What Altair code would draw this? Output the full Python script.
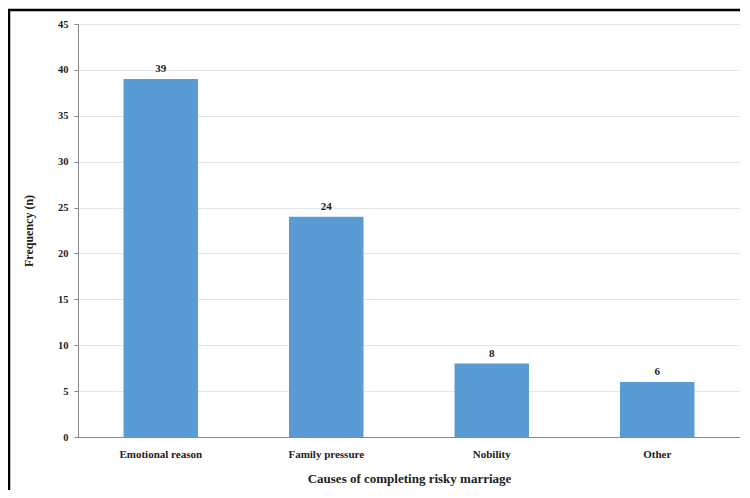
import altair as alt
import pandas as pd

categories = ["Emotional reason", "Family pressure", "Nobility", "Other"]
values = [39, 24, 8, 6]
y_ticks = [0, 5, 10, 15, 20, 25, 30, 35, 40, 45]

df = pd.DataFrame({"cause": categories, "n": values})

FONT = "Liberation Serif"

base = alt.Chart(df)

bars = base.mark_bar(color="#5B9BD5").encode(
    x=alt.X("cause:N", sort=categories,
            scale=alt.Scale(paddingInner=0.55, paddingOuter=0.275),
            axis=alt.Axis(title="Causes of completing  risky marriage", labelAngle=0,
                          labelFont=FONT, labelFontWeight="bold", labelFontSize=11,
                          labelColor="#222", titleFont=FONT, titleFontWeight="bold",
                          titleFontSize=13, titleColor="#222", titlePadding=13,
                          domainColor="#888", ticks=False, labelPadding=11)),
    y=alt.Y("n:Q", scale=alt.Scale(domain=[0, 45]),
            axis=alt.Axis(title="Frequency  (n)", values=y_ticks, labelFont=FONT,
                          labelFontWeight="bold", labelFontSize=10.5, labelColor="#222",
                          titleFont=FONT, titleFontWeight="bold", titleFontSize=12,
                          titleColor="#222", titlePadding=22, domainColor="#888",
                          tickColor="#888", tickSize=4, gridColor="#e6e6e6",
                          labelPadding=6)),
)

labels = base.mark_text(dy=-10, font=FONT, fontWeight="bold", fontSize=11, color="#222").encode(
    x=alt.X("cause:N", sort=categories),
    y="n:Q",
    text="n:Q",
)

frame = alt.Chart(pd.DataFrame({"a": [0]})).mark_rect(
    filled=False, stroke="black", strokeWidth=2.5, clip=False
).encode(x=alt.value(-69), x2=alt.value(720), y=alt.value(-14), y2=alt.value(500))

chart = alt.layer(bars, labels, frame).properties(
    width=662, height=413,
    autosize=alt.AutoSizeParams(type="none"),
    padding={"left": 70, "top": 16, "right": 0, "bottom": 53},
).configure_view(stroke=None).configure(background="white")

chart.save("out.html", embed_options={"renderer": "svg", "actions": False})
